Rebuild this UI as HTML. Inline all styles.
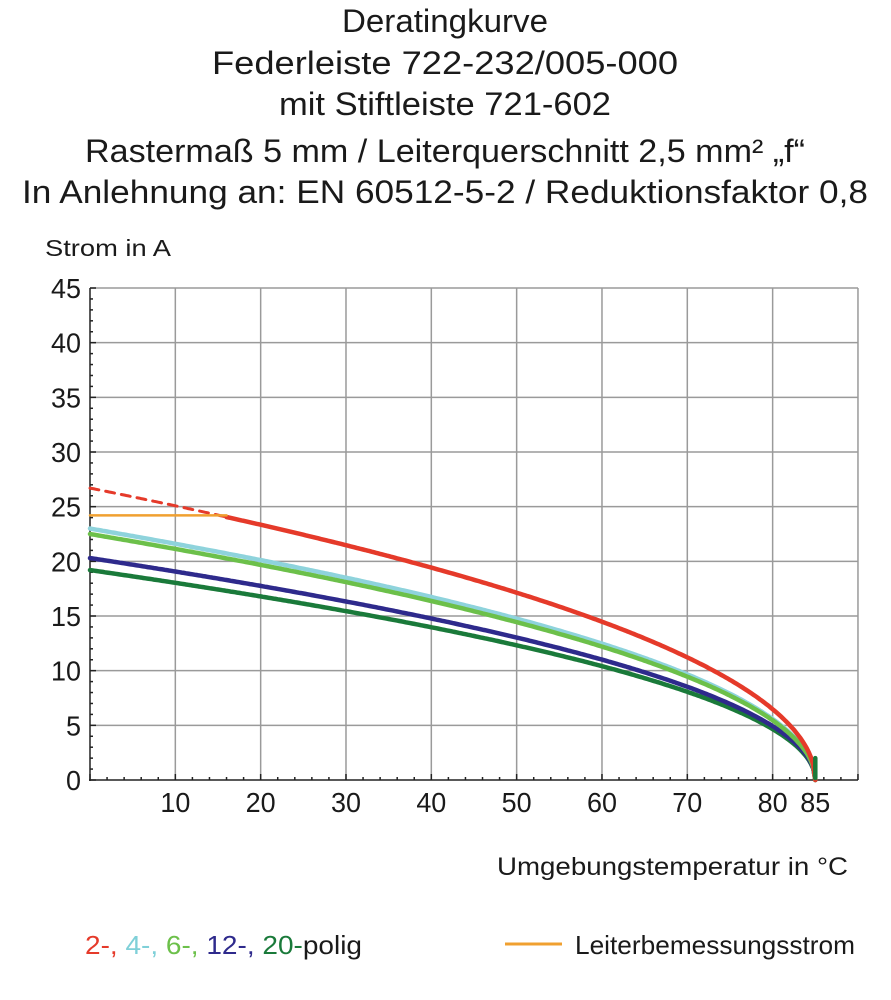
<!DOCTYPE html>
<html><head><meta charset="utf-8"><style>
html,body{margin:0;padding:0;background:#fff;}
svg{display:block;font-family:"Liberation Sans","DejaVu Sans",sans-serif;}
</style></head><body>
<svg id="s" width="891" height="1000" viewBox="0 0 891 1000" xmlns="http://www.w3.org/2000/svg">
<g fill="#1a1a1a" font-size="32" text-anchor="middle">
<text x="445" y="32" textLength="206" lengthAdjust="spacingAndGlyphs">Deratingkurve</text>
<text x="445" y="74" textLength="466" lengthAdjust="spacingAndGlyphs">Federleiste 722-232/005-000</text>
<text x="445" y="115" textLength="332" lengthAdjust="spacingAndGlyphs">mit Stiftleiste 721-602</text>
<text x="445" y="162" textLength="720" lengthAdjust="spacingAndGlyphs">Rastermaß 5 mm / Leiterquerschnitt 2,5 mm² „f“</text>
<text x="445" y="203" textLength="846" lengthAdjust="spacingAndGlyphs">In Anlehnung an: EN 60512-5-2 / Reduktionsfaktor 0,8</text>
</g>
<text x="45" y="256" font-size="23" fill="#1a1a1a" textLength="126" lengthAdjust="spacingAndGlyphs">Strom in A</text>
<g id="grid" stroke="#9a9a9a" stroke-width="1.5" fill="none"></g>
<g id="ax" stroke="#222" stroke-width="1.5"></g>
<g id="lab" font-size="28" fill="#1a1a1a"></g>
<g id="curves" fill="none" stroke-linecap="round"></g>
<text x="497" y="875" font-size="25" fill="#1a1a1a" textLength="351" lengthAdjust="spacingAndGlyphs">Umgebungstemperatur in °C</text>
<text x="85" y="954" font-size="26" textLength="277" lengthAdjust="spacingAndGlyphs"><tspan fill="#e53a2a">2-, </tspan><tspan fill="#7fd0d8">4-, </tspan><tspan fill="#6cc04a">6-, </tspan><tspan fill="#2e2a8c">12-, </tspan><tspan fill="#1a7a3a">20-</tspan><tspan fill="#1a1a1a">polig</tspan></text>
<line x1="505" y1="944" x2="562" y2="944" stroke="#f0a030" stroke-width="3"/>
<text x="575" y="954" font-size="26" fill="#1a1a1a" textLength="280" lengthAdjust="spacingAndGlyphs">Leiterbemessungsstrom</text>
</svg>
<script>
var NS="http://www.w3.org/2000/svg";
function X(t){return 90+t*8.533;}function Y(i){return 780-i*10.933;}
function el(p,n,a,txt){var e=document.createElementNS(NS,n);for(var k in a)e.setAttribute(k,a[k]);if(txt!=null)e.textContent=txt;document.getElementById(p).appendChild(e);return e;}
for(var t=10;t<=90;t+=10)el("grid","line",{x1:X(t),y1:288,x2:X(t),y2:780});
for(var i=5;i<=45;i+=5)el("grid","line",{x1:90,y1:Y(i),x2:858,y2:Y(i)});
el("ax","line",{x1:90,y1:288,x2:90,y2:781});el("ax","line",{x1:89,y1:780,x2:858,y2:780});
for(var i=0;i<=45;i+=1){var L=i%5==0?6:3;el("ax","line",{x1:90,y1:Y(i),x2:90+L,y2:Y(i)});}
for(var t=0;t<=90;t+=2){var L=t%10==0?6:3;el("ax","line",{x1:X(t),y1:780,x2:X(t),y2:780-L});}
for(var i=0;i<=45;i+=5)el("lab","text",{x:81,y:Y(i)+10,"text-anchor":"end",textLength:(i<10?15:30),lengthAdjust:"spacingAndGlyphs"},""+i);
[10,20,30,40,50,60,70,80,85].forEach(function(t){el("lab","text",{x:X(t),y:812,"text-anchor":"middle",textLength:30,lengthAdjust:"spacingAndGlyphs"},""+t);});
function path(I0,a,b){var d="";for(var t=a;t<=b+1e-9;t+=0.25){var v=I0*Math.sqrt(Math.max(0,1-t/85));d+=(d?"L":"M")+X(t).toFixed(1)+","+Y(v).toFixed(1);}return d;}
el("curves","path",{d:path(19.2,0,85),stroke:"#1a7a3a","stroke-width":4.5});
el("curves","path",{d:path(20.3,0,85),stroke:"#2e2a8c","stroke-width":4.5});
el("curves","path",{d:path(23.0,0,85),stroke:"#8ed3dc","stroke-width":4.5});
el("curves","path",{d:path(22.5,0,85),stroke:"#6cc04a","stroke-width":4.5});
el("curves","path",{d:path(26.7,16,85),stroke:"#e53a2a","stroke-width":4.5});
el("curves","path",{d:path(26.7,0,16),stroke:"#e53a2a","stroke-width":3,"stroke-dasharray":"9,7"});
el("curves","line",{x1:90,y1:Y(24.2),x2:X(16),y2:Y(24.2),stroke:"#f0a030","stroke-width":2.5});
el("curves","line",{x1:X(85),y1:Y(2),x2:X(85),y2:778,stroke:"#1a7a3a","stroke-width":4.5});
</script>
</body></html>
